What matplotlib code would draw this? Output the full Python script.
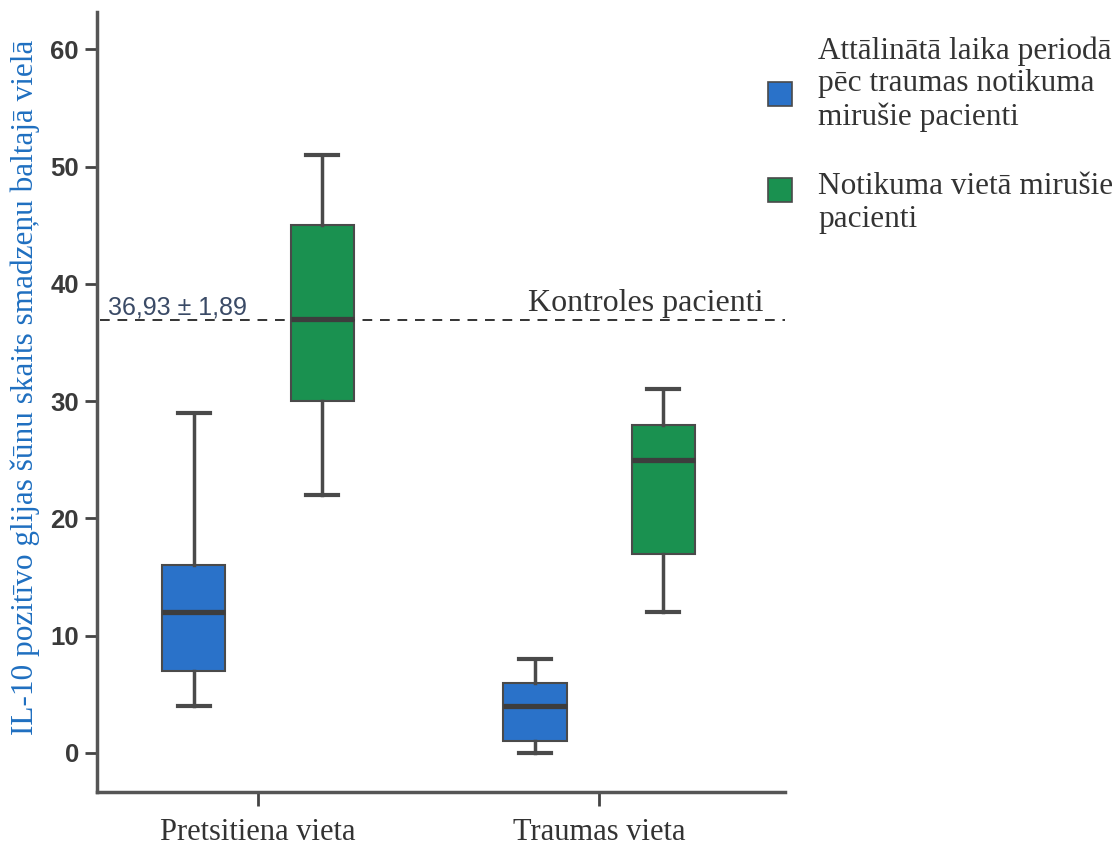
import matplotlib
matplotlib.use("Agg")
import matplotlib.pyplot as plt
from matplotlib.patches import Rectangle

# Groups on the x axis
categories = ["Pretsitiena vieta", "Traumas vieta"]

# Series labels
series_labels = [
    "Attālinātā laika periodā\npēc traumas notikuma\nmirušie pacienti",
    "Notikuma vietā mirušie\npacienti",
]

# Box statistics per group: [whisker low, Q1, median, Q3, whisker high]
delayed_deaths = [
    [4, 7, 12, 16, 29],
    [0, 1, 4, 6, 8],
]
scene_deaths = [
    [22, 30, 37, 45, 51],
    [12, 17, 25, 28, 31],
]

# Control group reference
control_mean = 36.93
control_sd = 1.89
control_label = "Kontroles pacienti"

y_ticks = [0, 10, 20, 30, 40, 50, 60]
y_label = "IL-10 pozitīvo glijas šūnu skaits smadzeņu baltajā vielā"

colors = ["#2a72c9", "#1a9150"]
edge = "#4a4a4a"
text_dark = "#333333"

fig = plt.figure(figsize=(11.2, 8.48), dpi=100)
ax = fig.add_axes([0.0866, 0.066, 0.6143, 0.92])


def to_stats(rows):
    out = []
    for lo, q1, med, q3, hi in rows:
        out.append(dict(whislo=lo, q1=q1, med=med, q3=q3, whishi=hi, fliers=[]))
    return out


offset = 0.188
width = 0.185
for k, (series, color) in enumerate(zip([delayed_deaths, scene_deaths], colors)):
    pos = [i + (2 * k - 1) * offset for i in range(len(categories))]
    ax.bxp(
        to_stats(series),
        positions=pos,
        widths=width,
        patch_artist=True,
        showfliers=False,
        boxprops=dict(facecolor=color, edgecolor=edge, linewidth=1.5),
        medianprops=dict(color="#3d3d3d", linewidth=3.8),
        whiskerprops=dict(color=edge, linewidth=2.5),
        capprops=dict(color=edge, linewidth=3),
        capwidths=width / 2,
        manage_ticks=False,
    )

# Control level
ax.axhline(control_mean, xmin=0.005, xmax=1.0, color="#333333",
           linestyle=(0, (5, 4)), linewidth=1.4)
ax.text(-0.44, control_mean + 0.45, f"{control_mean:.2f} ± {control_sd:.2f}".replace(".", ","),
        family="Liberation Sans", fontsize=18, color="#3a4a66",
        ha="left", va="baseline")
ax.text(1.138, control_mean + 0.75, control_label,
        family="Liberation Serif", fontsize=23, color=text_dark,
        ha="center", va="baseline")

ax.set_xlim(-0.472, 1.545)
ax.set_ylim(-3.33, 63.2)
ax.set_xticks(range(len(categories)))
ax.set_xticklabels(categories, family="Liberation Serif", fontsize=22,
                   color=text_dark)
ax.set_yticks(y_ticks)
ax.set_yticklabels([str(t) for t in y_ticks], family="Liberation Sans",
                   fontweight="bold", fontsize=18.5, color="#3a3a3a")
ax.tick_params(axis="y", length=9, width=2, color="#444444", pad=4)
ax.tick_params(axis="x", length=10, width=2, color="#444444", pad=9)

for side in ["top", "right"]:
    ax.spines[side].set_visible(False)
for side in ["left", "bottom"]:
    ax.spines[side].set_linewidth(2.5)
    ax.spines[side].set_color("#555555")

ax.set_ylabel(y_label, family="Liberation Serif", fontsize=22.5,
              color="#1f6fc0")
ax.yaxis.set_label_coords(-0.083, 0.519)

# Key: coloured squares with their labels, in figure pixels
W, H = 1120, 848
key_squares = [(768, 82), (768, 178)]
key_texts = [(818, 36), (818, 172)]
size = 24
for (sx, sy), (tx, ty), color, label in zip(key_squares, key_texts, colors, series_labels):
    fig.patches.append(Rectangle((sx / W, 1 - (sy + size) / H), size / W, size / H,
                                 transform=fig.transFigure, facecolor=color,
                                 edgecolor=edge, linewidth=1.2))
    fig.text(tx / W, 1 - ty / H, label, family="Liberation Serif", fontsize=22.5,
             color=text_dark, ha="left", va="top", linespacing=1.18)

fig.savefig("out.png", dpi=100)
